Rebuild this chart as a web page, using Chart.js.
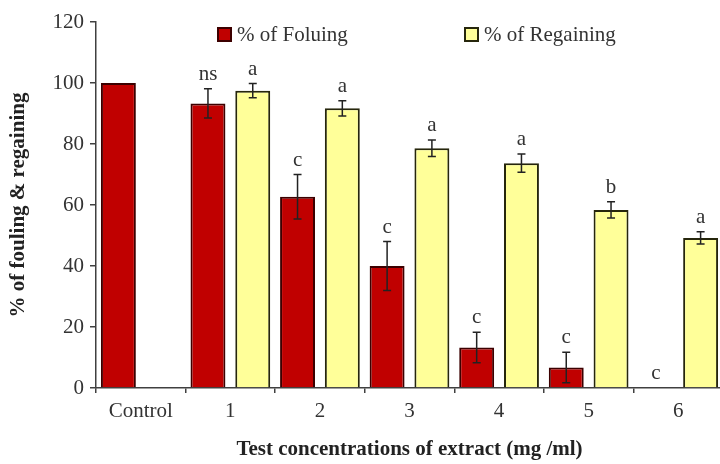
<!DOCTYPE html>
<html>
<head>
<meta charset="utf-8">
<script src="https://cdn.jsdelivr.net/npm/chart.js@4.4.1/dist/chart.umd.min.js"></script>
<style>
  html, body { margin: 0; padding: 0; background: #fff; overflow: hidden; }
  .chart-box { width: 726px; height: 464px; }
</style>
</head>
<body>
<div class="chart-box"><canvas id="chart"></canvas></div>
<script>
const categories = ['Control', '1', '2', '3', '4', '5', '6'];
const fouling = [100, 93.3, 62.7, 40, 13.3, 6.7, 0];
const foulingErr = [0, 4.8, 7.3, 8, 5, 5, 0];
const regaining = [null, 97.5, 91.7, 78.6, 73.7, 58.4, 49.2];
const regainingErr = [0, 2.3, 2.5, 2.7, 3, 2.7, 2];
const foulingLetters = ['', 'ns', 'c', 'c', 'c', 'c', 'c'];
const regainingLetters = ['', 'a', 'a', 'a', 'a', 'b', 'a'];
const yTicks = [0, 20, 40, 60, 80, 100, 120];

const serif = "'Liberation Serif', 'Times New Roman', serif";
const inkColor = '#333333';
const axisColor = '#404040';

// error bars + significance letters on top of each bar
const errorBarPlugin = {
  id: 'errorBars',
  afterDatasetsDraw(chart) {
    const ctx = chart.ctx;
    const y = chart.scales.y;
    const errs = [foulingErr, regainingErr];
    const letters = [foulingLetters, regainingLetters];
    ctx.save();
    ctx.strokeStyle = '#222';
    ctx.lineWidth = 1.5;
    ctx.fillStyle = inkColor;
    ctx.font = '21px ' + serif;
    ctx.textAlign = 'center';
    ctx.textBaseline = 'alphabetic';
    chart.data.datasets.forEach((ds, di) => {
      const meta = chart.getDatasetMeta(di);
      meta.data.forEach((bar, i) => {
        const v = ds.data[i];
        if (v === null || v === undefined) return;
        const e = errs[di][i];
        const x = bar.x;
        let top = y.getPixelForValue(v);
        if (e > 0) {
          const yHi = y.getPixelForValue(v + e);
          const yLo = y.getPixelForValue(v - e);
          ctx.beginPath();
          ctx.moveTo(x, yHi); ctx.lineTo(x, yLo);
          ctx.moveTo(x - 4, yHi); ctx.lineTo(x + 4, yHi);
          ctx.moveTo(x - 4, yLo); ctx.lineTo(x + 4, yLo);
          ctx.stroke();
          top = yHi;
        }
        const txt = letters[di][i];
        if (txt) ctx.fillText(txt, x, top - 9);
      });
    });
    ctx.restore();
  }
};

// legend drawn inside the plot, as in the original figure
const innerLegendPlugin = {
  id: 'innerLegend',
  afterDraw(chart) {
    const ctx = chart.ctx;
    const spots = [218, 465];
    ctx.save();
    ctx.font = '21px ' + serif;
    ctx.textBaseline = 'middle';
    ctx.textAlign = 'left';
    chart.data.datasets.forEach((ds, i) => {
      const x = spots[i];
      ctx.fillStyle = ds.backgroundColor;
      ctx.strokeStyle = ds.borderColor;
      ctx.lineWidth = 2;
      ctx.fillRect(x, 28, 13, 13);
      ctx.strokeRect(x, 28, 13, 13);
      ctx.fillStyle = inkColor;
      ctx.fillText(ds.label, x + 19, 35);
    });
    ctx.restore();
  }
};

new Chart(document.getElementById('chart').getContext('2d'), {
  type: 'bar',
  data: {
    labels: categories,
    datasets: [
      {
        label: '% of Foluing',
        data: fouling,
        backgroundColor: '#c00000',
        borderColor: '#3c0000',
        borderWidth: 2,
        categoryPercentage: 1.0,
        barPercentage: 0.78,
      },
      {
        label: '% of Regaining',
        data: regaining,
        backgroundColor: '#ffff99',
        borderColor: '#26260c',
        borderWidth: 2,
        categoryPercentage: 1.0,
        barPercentage: 0.78,
      },
    ],
  },
  options: {
    responsive: true,
    maintainAspectRatio: false,
    animation: false,
    layout: { padding: { left: 6, right: 3, top: 22, bottom: 0 } },
    plugins: {
      legend: { display: false },
      tooltip: { enabled: false },
    },
    scales: {
      x: {
        type: 'category',
        grid: { offset: true, drawOnChartArea: false, tickLength: 5, color: axisColor, lineWidth: 1.5 },
        border: { display: true, color: axisColor, width: 1.5 },
        ticks: { color: inkColor, font: { family: serif, size: 21 }, padding: 6, maxRotation: 0 },
        title: {
          display: true,
          text: 'Test concentrations of extract (mg /ml)',
          color: '#222',
          font: { family: serif, size: 21, weight: 'bold' },
          padding: { top: 4, bottom: 2 },
        },
        afterFit(scale) { scale.height = 76; },
      },
      y: {
        min: 0,
        max: 120,
        afterBuildTicks(scale) { scale.ticks = yTicks.map(v => ({ value: v })); },
        grid: { drawOnChartArea: false, tickLength: 6, color: axisColor, lineWidth: 1.5 },
        border: { display: true, color: axisColor, width: 1.5 },
        ticks: { color: inkColor, font: { family: serif, size: 21 }, padding: 6 },
        title: {
          display: true,
          text: '% of fouling & regaining',
          color: '#222',
          font: { family: serif, size: 21, weight: 'bold' },
          padding: { top: 0, bottom: 4 },
        },
        afterFit(scale) { scale.width = 90; },
      },
    },
  },
  plugins: [errorBarPlugin, innerLegendPlugin],
});
</script>
</body>
</html>
